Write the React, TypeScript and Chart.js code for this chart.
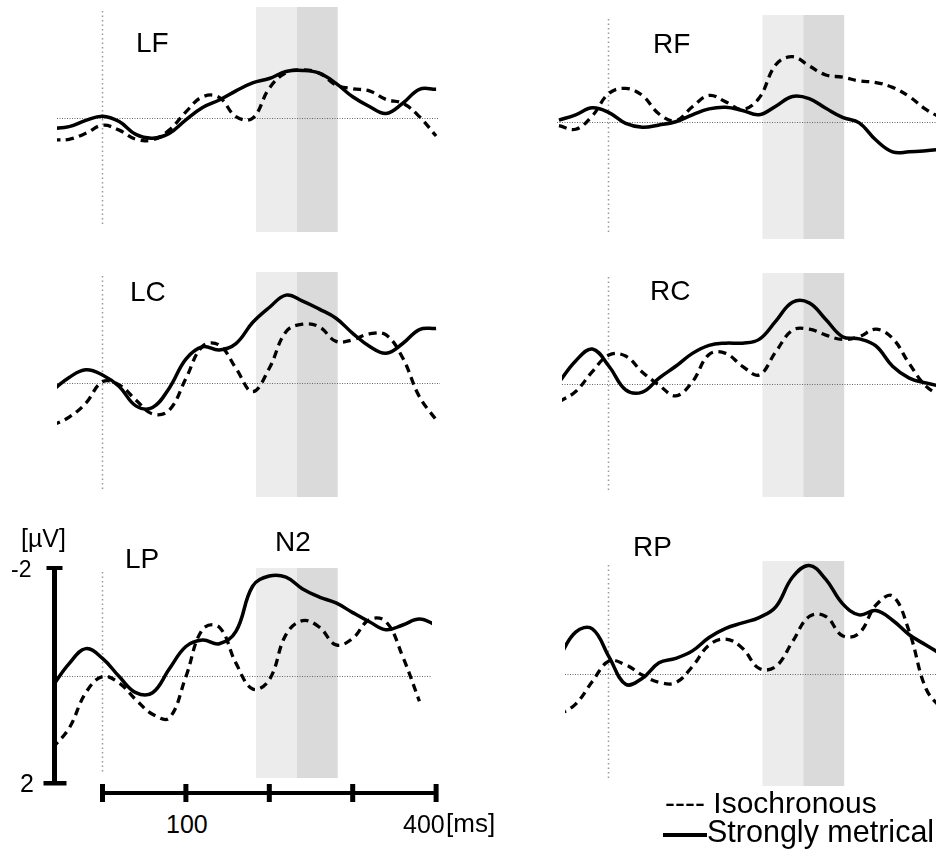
import React, { useEffect, useRef } from 'react';
import { Chart, registerables } from 'chart.js';

Chart.register(...registerables);

// ---------------- DATA ----------------
const TIMES = [-60, -40, -20, 0, 20, 40, 60, 80, 100, 120, 140, 160, 180, 200, 220, 240, 260, 280, 300, 320, 340, 360, 380, 400];
const SERIES_NAMES = ['Isochronous', 'Strongly metrical'];
const SHADE_MS = [184, 233, 282];
const SCALE_UV = [-2, 2];
const SCALE_MS_TICKS = [0, 100, 200, 300, 400];
const SCALE_MS_LABELS = ['100', '400'];
const PANEL_LABELS = ['LF', 'LC', 'LP', 'RF', 'RC', 'RP'];
const COMPONENT_LABEL = 'N2';

const LF_ISO = [0.40, 0.39, 0.28, 0.13, 0.22, 0.39, 0.40, 0.22, -0.12, -0.40, -0.39, -0.03, 0.0, -0.56, -0.85, -0.90, -0.84, -0.62, -0.55, -0.51, -0.35, -0.28, -0.03, 0.33];
const LF_MET = [0.19, 0.155, 0.04, -0.04, 0.06, 0.30, 0.37, 0.28, 0.03, -0.20, -0.34, -0.51, -0.66, -0.74, -0.87, -0.89, -0.84, -0.65, -0.40, -0.22, -0.09, -0.28, -0.54, -0.54];

const LC_ISO = [0.78, 0.63, 0.37, -0.03, 0.03, 0.31, 0.57, 0.50, -0.09, -0.69, -0.71, -0.28, 0.155, -0.28, -0.96, -1.10, -1.05, -0.78, -0.81, -0.92, -0.90, -0.47, 0.25, 0.68];
const LC_MET = [0.13, -0.11, -0.25, -0.155, 0.06, 0.42, 0.45, 0.09, -0.45, -0.68, -0.62, -0.74, -1.13, -1.41, -1.64, -1.53, -1.38, -1.21, -0.93, -0.69, -0.56, -0.74, -1.00, -1.02];

const LP_ISO = [1.35, 0.98, 0.32, 0.02, 0.14, 0.45, 0.72, 0.79, 0.02, -0.86, -0.90, -0.23, 0.25, 0.08, -0.76, -1.02, -0.90, -0.57, -0.69, -1.04, -1.00, -0.35, 0.48, null];
const LP_MET = [0.20, -0.22, -0.50, -0.32, 0.02, 0.32, 0.32, -0.12, -0.54, -0.66, -0.59, -0.82, -1.66, -1.85, -1.83, -1.61, -1.46, -1.35, -1.17, -1.00, -0.85, -0.94, -1.05, -0.94];

const RF_ISO = [0.06, 0.13, -0.12, -0.54, -0.63, -0.50, -0.155, -0.03, -0.29, -0.50, -0.38, -0.24, -0.45, -1.07, -1.22, -1.05, -0.88, -0.84, -0.77, -0.74, -0.65, -0.48, -0.24, -0.07];
const RF_MET = [-0.04, -0.14, -0.27, -0.18, 0.02, 0.09, 0.05, -0.01, -0.14, -0.25, -0.28, -0.22, -0.14, -0.30, -0.48, -0.44, -0.26, -0.09, 0.01, 0.33, 0.55, 0.55, 0.53, 0.50];

const RC_ISO = [0.33, 0.14, -0.23, -0.54, -0.52, -0.22, 0.02, 0.22, -0.04, -0.55, -0.57, -0.33, -0.17, -0.60, -1.00, -1.02, -0.91, -0.83, -0.88, -1.02, -0.85, -0.38, 0.04, 0.24];
const RC_MET = [-0.03, -0.43, -0.65, -0.33, 0.11, 0.15, -0.11, -0.33, -0.57, -0.72, -0.76, -0.76, -0.83, -1.17, -1.52, -1.51, -1.20, -0.88, -0.84, -0.71, -0.33, -0.11, -0.02, 0.05];

const RP_ISO = [0.76, 0.56, 0.14, -0.24, -0.17, 0.02, 0.155, 0.16, -0.14, -0.54, -0.65, -0.48, -0.105, -0.14, -0.60, -1.07, -1.07, -0.71, -0.76, -1.28, -1.45, -0.79, 0.27, 0.67];
const RP_MET = [-0.30, -0.78, -0.84, -0.32, 0.19, 0.08, -0.21, -0.29, -0.43, -0.68, -0.85, -0.95, -1.05, -1.25, -1.80, -2.02, -1.76, -1.31, -1.10, -1.18, -1.00, -0.73, -0.54, -0.35];

// ---------------- LAYOUT ----------------
const PX_PER_MS = 0.834;
const PX_PER_UV = 53.75;
const COL_X0: Record<string, number> = { L: 102.5, R: 609 };
const FONT = "'Liberation Sans', Arial, Helvetica, sans-serif";

type Pad = { l: number; t: number; r: number; b: number };
type PanelDef = {
  label: string;
  iso: (number | null)[];
  met: (number | null)[];
  col: 'L' | 'R';
  baseline: number;
  top: number;
  bottom: number;
  left: number;
  right: number;
  pad?: Pad;
  scaleBars?: boolean;
};

const DEFAULT_PAD: Pad = { l: 0, t: 8, r: 0, b: 8 };

const PANELS: PanelDef[] = [
  { label: PANEL_LABELS[0], iso: LF_ISO, met: LF_MET, col: 'L', baseline: 118.3, top: 7, bottom: 232, left: 57, right: 438 },
  { label: PANEL_LABELS[1], iso: LC_ISO, met: LC_MET, col: 'L', baseline: 383.3, top: 272, bottom: 497, left: 57, right: 440 },
  { label: PANEL_LABELS[2], iso: LP_ISO, met: LP_MET, col: 'L', baseline: 675.5, top: 568, bottom: 778, left: 57, right: 432, pad: { l: 57, t: 13, r: 13, b: 32 }, scaleBars: true },
  { label: PANEL_LABELS[3], iso: RF_ISO, met: RF_MET, col: 'R', baseline: 122.3, top: 15, bottom: 239, left: 557, right: 936 },
  { label: PANEL_LABELS[4], iso: RC_ISO, met: RC_MET, col: 'R', baseline: 384, top: 273, bottom: 497, left: 562, right: 936 },
  { label: PANEL_LABELS[5], iso: RP_ISO, met: RP_MET, col: 'R', baseline: 674, top: 561, bottom: 786, left: 565, right: 936 },
];

function makeDecorPlugin(p: PanelDef) {
  return {
    id: 'panelDecor' + p.label,
    beforeDatasetsDraw(chart: any) {
      const { ctx, chartArea, scales } = chart;
      const x = scales.x;
      const y = scales.y;
      ctx.save();
      // shaded N2 windows
      const xa = x.getPixelForValue(SHADE_MS[0]);
      const xb = x.getPixelForValue(SHADE_MS[1]);
      const xc = x.getPixelForValue(SHADE_MS[2]);
      ctx.fillStyle = '#ececec';
      ctx.fillRect(xa, chartArea.top, xb - xa, chartArea.bottom - chartArea.top);
      ctx.fillStyle = '#dadada';
      ctx.fillRect(xb, chartArea.top, xc - xb, chartArea.bottom - chartArea.top);
      // baseline (0 µV)
      const y0 = Math.round(y.getPixelForValue(0)) + 0.5;
      ctx.strokeStyle = '#666';
      ctx.lineWidth = 1;
      ctx.setLineDash([1, 1.5]);
      ctx.beginPath();
      ctx.moveTo(chartArea.left, y0);
      ctx.lineTo(chartArea.right, y0);
      ctx.stroke();
      // stimulus onset (0 ms)
      const x0 = Math.round(x.getPixelForValue(0)) - 0.5;
      ctx.strokeStyle = '#999';
      ctx.lineWidth = 1.5;
      ctx.setLineDash([1.5, 3]);
      ctx.beginPath();
      ctx.moveTo(x0, chartArea.top + 4);
      ctx.lineTo(x0, chartArea.bottom - 6);
      ctx.stroke();
      ctx.restore();
    },
    afterDraw(chart: any) {
      if (!p.scaleBars) return;
      const { ctx, chartArea, scales } = chart;
      const x = scales.x;
      const y = scales.y;
      ctx.save();
      ctx.fillStyle = '#000';
      // amplitude scale bar
      const yTop = y.getPixelForValue(SCALE_UV[0]);
      const yBot = y.getPixelForValue(SCALE_UV[1]);
      const bx = chartArea.left - 2.5;
      ctx.fillRect(bx - 2.5, yTop, 5, yBot - yTop);
      ctx.fillRect(bx - 8, yTop - 2, 16, 4);
      ctx.fillRect(bx - 11, yBot - 2, 23, 4.5);
      // time scale bar
      const by = yBot + 10;
      const t0 = x.getPixelForValue(SCALE_MS_TICKS[0]);
      const t1 = x.getPixelForValue(SCALE_MS_TICKS[SCALE_MS_TICKS.length - 1]);
      ctx.fillRect(t0, by - 2, t1 - t0, 4);
      SCALE_MS_TICKS.forEach((t) => {
        const px = x.getPixelForValue(t);
        ctx.fillRect(px - 2.5, by - 9, 5, 18);
      });
      ctx.restore();
    },
  };
}

function PanelChart({ p }: { p: PanelDef }) {
  const ref = useRef<HTMLCanvasElement | null>(null);
  const pad = p.pad ?? DEFAULT_PAD;
  const cLeft = p.left - pad.l;
  const cTop = p.top - pad.t;
  const cWidth = p.right - p.left + pad.l + pad.r;
  const cHeight = p.bottom - p.top + pad.t + pad.b;

  useEffect(() => {
    const canvas = ref.current;
    if (!canvas) return;
    const X0 = COL_X0[p.col];
    const xmin = (p.left - X0) / PX_PER_MS;
    const xmax = (p.right - X0) / PX_PER_MS;
    const ymin = (p.top - p.baseline) / PX_PER_UV;
    const ymax = (p.bottom - p.baseline) / PX_PER_UV;
    const clip = { left: 0, right: 0, top: 12, bottom: 12 };
    const chart = new Chart(canvas, {
      type: 'line',
      data: {
        datasets: [
          {
            label: SERIES_NAMES[0],
            data: TIMES.map((t, i) => ({ x: t, y: p.iso[i] })) as any,
            borderColor: '#000',
            borderWidth: 3.3,
            borderDash: [8, 5.5],
            borderCapStyle: 'butt',
            tension: 0.4,
            pointRadius: 0,
            fill: false,
            clip: clip as any,
          },
          {
            label: SERIES_NAMES[1],
            data: TIMES.map((t, i) => ({ x: t, y: p.met[i] })) as any,
            borderColor: '#000',
            borderWidth: 3.5,
            borderJoinStyle: 'round',
            tension: 0.4,
            pointRadius: 0,
            fill: false,
            clip: clip as any,
          },
        ],
      },
      options: {
        animation: false,
        responsive: false,
        maintainAspectRatio: false,
        devicePixelRatio: 1,
        events: [],
        layout: { padding: { left: pad.l, top: pad.t, right: pad.r, bottom: pad.b } },
        plugins: { legend: { display: false }, tooltip: { enabled: false }, title: { display: false } },
        scales: {
          x: { type: 'linear', min: xmin, max: xmax, display: false },
          y: { type: 'linear', min: ymin, max: ymax, reverse: true, display: false },
        },
      },
      plugins: [makeDecorPlugin(p)],
    });
    return () => chart.destroy();
  }, []);

  return (
    <canvas
      ref={ref}
      width={cWidth}
      height={cHeight}
      style={{ position: 'absolute', left: cLeft, top: cTop, width: cWidth, height: cHeight, display: 'block' }}
    />
  );
}

function Label({ text, left, baseline, size }: { text: string; left: number; baseline: number; size: number }) {
  return (
    <div
      style={{
        position: 'absolute',
        left,
        top: baseline - 0.8465 * size,
        fontFamily: FONT,
        fontSize: size,
        lineHeight: 1,
        color: '#000',
        whiteSpace: 'nowrap',
      }}
    >
      {text}
    </div>
  );
}

export default function App() {
  return (
    <div
      style={{
        position: 'absolute',
        left: 0,
        top: 0,
        width: 936,
        height: 853,
        overflow: 'hidden',
        background: '#fff',
      }}
    >
      {PANELS.map((p) => (
        <PanelChart key={p.label} p={p} />
      ))}
      <Label text={PANEL_LABELS[0]} left={136} baseline={53} size={28} />
      <Label text={PANEL_LABELS[1]} left={130} baseline={302} size={28} />
      <Label text={PANEL_LABELS[2]} left={125} baseline={569} size={28} />
      <Label text={PANEL_LABELS[3]} left={653} baseline={54} size={28} />
      <Label text={PANEL_LABELS[4]} left={650} baseline={301} size={28} />
      <Label text={PANEL_LABELS[5]} left={633} baseline={557} size={28} />
      <Label text={COMPONENT_LABEL} left={275} baseline={552} size={28} />
      <Label text="[µV]" left={21} baseline={547} size={25} />
      <Label text={String(SCALE_UV[0])} left={11} baseline={577} size={23} />
      <Label text={String(SCALE_UV[1])} left={20} baseline={792} size={25} />
      <Label text={SCALE_MS_LABELS[0]} left={166} baseline={833} size={25} />
      <Label text={SCALE_MS_LABELS[1]} left={403} baseline={833} size={25} />
      <Label text="[ms]" left={446} baseline={832} size={26} />
      <Label text={'---- ' + SERIES_NAMES[0]} left={665} baseline={813} size={30} />
      <div style={{ position: 'absolute', left: 663, top: 833, width: 44, height: 4, background: '#000' }} />
      <Label text={SERIES_NAMES[1]} left={707} baseline={842} size={30.5} />
    </div>
  );
}
